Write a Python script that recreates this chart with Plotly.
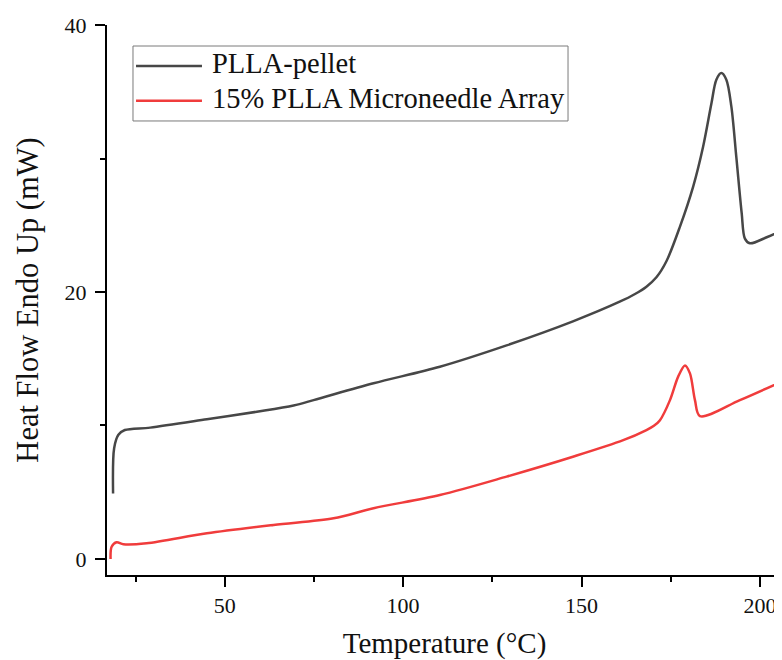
import plotly.graph_objects as go

# PLLA-pellet
pellet_x = [18.7, 19.0, 20.2, 22.0, 29.1, 45.0, 59.0, 69.3, 74.9, 91.7, 110.3, 129.0, 147.6,
            160.7, 165.0, 168.2, 171.0, 173.8, 177.6, 181.3, 184.1, 186.4, 187.8, 189.2, 190.6, 192.0,
            193.4, 194.9, 195.8, 197.2, 201.9, 206.1]
pellet_y = [4.9, 8.3, 9.3, 9.66, 9.84, 10.46, 11.03, 11.5, 11.9, 13.16, 14.4, 16.0, 17.8,
            19.27, 19.85, 20.4, 21.1, 22.3, 24.9, 27.9, 30.9, 34.1, 35.9, 36.4, 35.9, 33.9,
            30.1, 25.9, 24.0, 23.65, 24.1, 24.6]

# 15% PLLA Microneedle Array
mna_x = [18.0, 18.3, 19.7, 21.6, 28.1, 45.0, 63.7, 80.5, 91.7, 110.3, 129.0, 147.6, 161.7,
         168.2, 170.3, 172.0, 174.8, 177.1, 179.0, 180.4, 181.8, 183.2, 194.4, 206.2]
mna_y = [0.0, 0.92, 1.25, 1.1, 1.17, 1.92, 2.55, 3.05, 3.8, 4.79, 6.17, 7.66, 8.9,
         9.66, 9.98, 10.4, 11.9, 13.66, 14.5, 13.9, 11.9, 10.7, 11.9, 13.3]

series_names = ["PLLA-pellet", "15% PLLA Microneedle Array"]
series_colors = ["#474747", "#f03c3c"]

x_tickvals = [50, 100, 150, 200]
y_tickvals = [0, 20, 40]

FONT = "Liberation Serif"

fig = go.Figure()
for xs, ys, name, col in [(pellet_x, pellet_y, series_names[0], series_colors[0]),
                          (mna_x, mna_y, series_names[1], series_colors[1])]:
    fig.add_trace(go.Scatter(x=xs, y=ys, mode="lines", name=name,
                             line=dict(color=col, width=2.5, shape="spline", smoothing=0.9),
                             showlegend=False))

# manual legend
fig.add_shape(type="rect", xref="paper", yref="paper", x0=0.0385, x1=0.683, y0=0.8255, y1=0.9618,
              line=dict(color="#7a7a7a", width=1), fillcolor="white", layer="below")
leg_y = [0.9255, 0.8624]
for name, col, yy in zip(series_names, series_colors, leg_y):
    fig.add_shape(type="line", xref="paper", yref="paper", x0=0.043, x1=0.1407, y0=yy, y1=yy,
                  line=dict(color=col, width=2.5))
    fig.add_annotation(xref="paper", yref="paper", x=0.1526, y=yy + 0.004, text=name, showarrow=False,
                       xanchor="left", yanchor="middle", font=dict(family=FONT, size=28.5, color="#111"))

axis_common = dict(showline=True, linecolor="black", linewidth=2, ticks="outside", ticklen=10,
                   tickwidth=2, tickcolor="black", showgrid=False, zeroline=False, automargin=False,
                   tickfont=dict(family=FONT, size=22, color="#111"))

fig.update_xaxes(range=[17, 206.2], tickvals=x_tickvals, ticklabelstandoff=0,
                 minor=dict(ticks="outside", ticklen=5, tickwidth=2, tickcolor="black", dtick=25, tick0=0),
                 title=dict(text="Temperature (°C)", font=dict(family=FONT, size=29, color="#111"), standoff=16),
                 **axis_common)
fig.update_yaxes(range=[-1.2, 40], tickvals=y_tickvals, ticklabelstandoff=4,
                 minor=dict(ticks="outside", ticklen=5, tickwidth=2, tickcolor="black", dtick=10, tick0=0),
                 title=dict(text="Heat Flow Endo Up (mW)", font=dict(family=FONT, size=30.5, color="#111"), standoff=17),
                 **axis_common)

# page body has an 8px default margin; size and margins compensate so the plot fills the window
fig.update_layout(width=774, height=652, margin=dict(l=99, r=0, t=17, b=85),
                  plot_bgcolor="white", paper_bgcolor="white")

fig.write_html("out.html")
